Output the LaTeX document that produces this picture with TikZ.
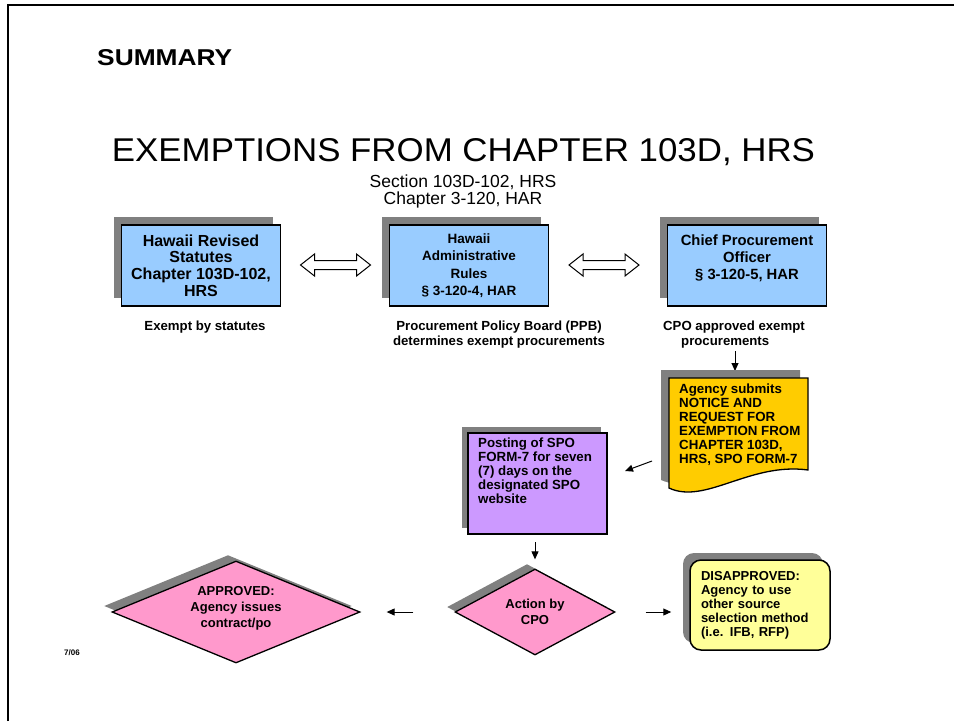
\documentclass[tikz,border=0pt]{standalone}
\usepackage{graphicx}
\usepackage{fontspec}
\setmainfont{Liberation Sans}
\usetikzlibrary{shapes.geometric,shadows,arrows.meta,calc}
\definecolor{boxblue}{HTML}{99CCFF}
\definecolor{pinkd}{HTML}{FF99CC}
\definecolor{purplebox}{HTML}{CC99FF}
\definecolor{docyellow}{HTML}{FFCC00}
\definecolor{paleyellow}{HTML}{FFFF99}
\definecolor{shadowgray}{HTML}{808080}
\begin{document}
\begin{tikzpicture}[x=1pt,y=-1pt,
  shad/.style={general shadow={fill=shadowgray, shadow xshift=-8pt, shadow yshift=8pt}},
  bluebox/.style={draw, line width=1.6pt, fill=boxblue, minimum width=159pt, minimum height=81pt,
    align=center, inner sep=0pt, font=\bfseries\fontsize{16}{16.7}\selectfont, shad},
  dblarrow/.style={draw, fill=white, line width=1pt},
  caption/.style={font=\bfseries\fontsize{13.2}{15}\selectfont, inner sep=0pt},
  flowtext/.style={font=\bfseries\fontsize{13.3}{14}\selectfont, align=left, inner sep=0pt},
  decision/.style={diamond, draw, line width=1.3pt, fill=pinkd, inner sep=0pt, align=center,
    font=\bfseries\fontsize{13}{16}\selectfont},
  arr/.style={-{Triangle[length=8pt,width=7pt]}, line width=1pt}
]
\useasboundingbox (0,0) rectangle (954,721);
% frame
\draw[line width=2.2pt] (8,721) -- (8,5) -- (954,5);

% headings
\node[anchor=west, inner sep=0pt] (summary) at (97,58)
  {\resizebox{135pt}{16pt}{\bfseries SUMMARY}};
\node[inner sep=0pt] (title) at (463.5,152)
  {\resizebox{703pt}{23pt}{EXEMPTIONS FROM CHAPTER 103D, HRS}};
\node[align=center, inner sep=0pt, font=\fontsize{17.5}{17}\selectfont] (subtitle) at (463,191)
  {Section 103D-102, HRS\\Chapter 3-120, HAR};

% top boxes
\node[bluebox] (hrs) at (201,265.5)
  {Hawaii Revised\\Statutes\\Chapter 103D-102,\\HRS};
\node[bluebox, font=\bfseries\fontsize{13.5}{17.3}\selectfont] (har) at (469,265.5)
  {Hawaii\\Administrative\\Rules\\\S\ 3-120-4, HAR};
\node[bluebox, font=\bfseries\fontsize{14.8}{16.7}\selectfont] (cpo) at (747,265.5)
  {Chief Procurement\\Officer\\\S\ 3-120-5, HAR\\\mbox{}};

% double arrows
\coordinate (da1) at (335.5,265);
\coordinate (da2) at (604,265);
\foreach \c in {da1,da2}
  \draw[dblarrow, shift={(\c)}] (-35,0) -- (-21,-11) -- (-21,-4.5) -- (21,-4.5) -- (21,-11)
    -- (35,0) -- (21,11) -- (21,4.5) -- (-21,4.5) -- (-21,11) -- cycle;

% captions
\node[caption] (cap1) at (205,327) {Exempt by statutes};
\node[caption, align=center] (cap2) at (499,335)
  {Procurement Policy Board (PPB)\\determines exempt procurements};
\node[caption, align=left, anchor=west] (cap3) at (663,335)
  {CPO approved exempt\\\hspace*{18pt}procurements};

% agency document
\coordinate (c3s) at (735,351);
\coordinate (c3e) at (735,371);
\draw[arr] (c3s) -- (c3e);
\fill[shadowgray] (661,370) -- (800,370) -- (800,462)
  .. controls (745,454) and (700,497) .. (661,480) -- cycle;
\draw[line width=1.3pt, fill=docyellow] (669,378) -- (808,378) -- (808,470)
  .. controls (750,462) and (705,505) .. (669,488) -- cycle;
\node[flowtext, anchor=north west] (doc) at (679,384)
  {Agency submits\\NOTICE AND\\REQUEST FOR\\EXEMPTION FROM\\CHAPTER 103D,\\HRS, SPO FORM-7};

% posting box
\node[draw, line width=2pt, fill=purplebox, minimum width=139pt, minimum height=101pt,
  general shadow={fill=shadowgray, shadow xshift=-6pt, shadow yshift=6pt}] (post) at (537.5,483.5) {};
\node[flowtext, anchor=north west] (posttxt) at (478,438)
  {Posting of SPO\\FORM-7 for seven\\(7) days on the\\designated SPO\\website};

\coordinate (d1) at (652,461);
\coordinate (d2) at (625,471);
\draw[arr] (d1) -- (d2);

% decisions
\node[decision, minimum width=160pt, minimum height=86pt, aspect=1.86,
  general shadow={fill=shadowgray, shadow xshift=-8pt, shadow yshift=5pt}] (act) at (535,612)
  {Action by\\CPO};
\node[decision, minimum width=248pt, minimum height=102pt, aspect=2.43,
  general shadow={fill=shadowgray, shadow xshift=-8pt, shadow yshift=6pt},
  font=\bfseries\fontsize{13}{16}\selectfont] (appr) at (236,612)
  {APPROVED:\\Agency issues\\contract/po\\[-6pt]\mbox{}};
\node[draw, line width=1.5pt, fill=paleyellow, rounded corners=11pt, minimum width=140pt,
  minimum height=90pt, text width=118pt, inner xsep=11pt, align=left,
  font=\bfseries\fontsize{13}{14}\selectfont,
  general shadow={fill=shadowgray, shadow xshift=-7pt, shadow yshift=7pt}] (dis) at (760,605)
  {DISAPPROVED:\\Agency to use\\other source\\selection method\\(i.e. IFB, RFP)};

\draw[arr, shorten <=7pt, shorten >=9pt] (post.south -| act.north) -- (act.north);
\draw[arr, shorten <=30pt, shorten >=18pt] (act.east) -- (dis.west |- act.east);
\draw[arr, shorten <=41pt, shorten >=26pt] (act.west) -- (appr.east);

\node[font=\bfseries\fontsize{8}{9}\selectfont, inner sep=0pt] (date) at (72,653) {7/06};
\end{tikzpicture}
\end{document}
